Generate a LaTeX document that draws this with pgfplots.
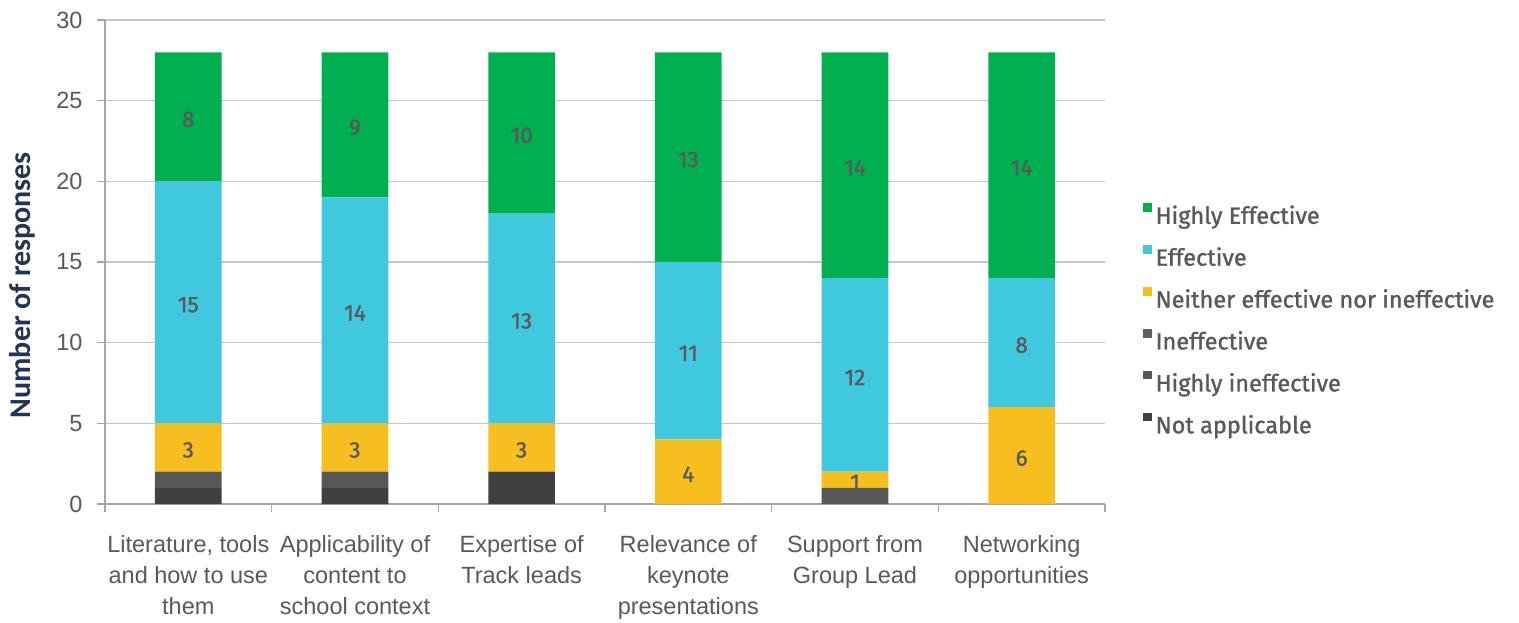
\documentclass[border=0pt]{standalone}
\usepackage{pgfplots}
\pgfplotsset{compat=1.18}
\usepackage{fontspec}
\setmainfont{Liberation Sans}
\newfontfamily\fira[FakeBold=1.2]{Fira Sans}
\newfontfamily\carlito{Carlito}
\definecolor{cHE}{HTML}{00B050}
\definecolor{cE}{HTML}{40C8DF}
\definecolor{cN}{HTML}{F6BE1E}
\definecolor{cI}{HTML}{606060}
\definecolor{cHI}{HTML}{575757}
\definecolor{cNA}{HTML}{404040}
\definecolor{txtgray}{HTML}{595959}
\definecolor{gridgray}{HTML}{C6C6C6}
\definecolor{axgray}{HTML}{A6A6A6}
\definecolor{navy}{HTML}{1F3657}
\pgfplotsset{
  sq/.style={legend image code/.code={\fill[##1] (0bp,3.5bp) rectangle (8.5bp,12bp);}},
  lbl/.style={nodes near coords={\pgfmathprintnumber{\rawy}},
    visualization depends on=rawy \as \rawy,
    every node near coord/.append style={anchor=center, yshift=-2.5bp,
      font=\fira\fontsize{22.5bp}{26bp}\selectfont, text=txtgray}},
}
\begin{document}
\begin{tikzpicture}
\useasboundingbox (-105bp,-119bp) rectangle (1414bp,504bp);
\begin{axis}[
  at={(0,0)}, anchor=south west,
  width=1000bp, height=484bp, scale only axis,
  ybar stacked, bar width=0.4,
  xmin=-0.5, xmax=5.5, ymin=0, ymax=30,
  ytick={0,5,...,30},
  xtick={0,...,5},
  minor xtick={-0.5,0.5,...,5.5},
  xticklabels={{Literature, tools\\and how to use\\them},{Applicability of\\content to\\school context},{Expertise of\\Track leads},{Relevance of\\keynote\\presentations},{Support from\\Group Lead},{Networking\\opportunities}},
  /pgf/number format/assume math mode=true,
  xticklabel style={align=center, font=\fontsize{23.5bp}{31bp}\selectfont, text=txtgray, yshift=-20bp},
  yticklabel style={font=\fontsize{23.5bp}{27bp}\selectfont, text=txtgray, xshift=-11bp},
  axis lines=left, axis line style={-, draw=axgray, line width=1.3bp},
  tick align=outside, major tick length=8bp, minor tick length=8bp,
  major x tick style={draw=none},
  minor x tick style={draw=axgray, line width=1.3bp},
  major y tick style={draw=axgray, line width=1.3bp},
  ymajorgrids, grid style={draw=gridgray, line width=1.1bp},
  ylabel={\bfseries Number of responses},
  ylabel style={at={(axis description cs:-0.083,0.452)}, anchor=center, font=\carlito\fontsize{30bp}{33bp}\selectfont, text=navy},
  reverse legend,
  legend cell align=left,
  legend style={at={(1.038,0.38)}, anchor=west, draw=none, fill=none, inner sep=0pt,
    font=\fira\fontsize{23.5bp}{27bp}\selectfont, text=txtgray, row sep=18bp,
    /tikz/every odd column/.append style={column sep=2bp}},
]
\addplot[fill=cNA, draw=none, sq] coordinates {(0,1) (1,1) (2,2) (3,0) (4,0) (5,0)};
\addlegendentry{Not applicable}
\addplot[fill=cHI, draw=none, sq] coordinates {(0,1) (1,1) (2,0) (3,0) (4,1) (5,0)};
\addlegendentry{Highly ineffective}
\addplot[fill=cI, draw=none, sq] coordinates {(0,0) (1,0) (2,0) (3,0) (4,0) (5,0)};
\addlegendentry{Ineffective}
\addplot[fill=cN, draw=none, sq, lbl] coordinates {(0,3) (1,3) (2,3) (3,4) (4,1) (5,6)};
\addlegendentry{Neither effective nor ineffective}
\addplot[fill=cE, draw=none, sq, lbl] coordinates {(0,15) (1,14) (2,13) (3,11) (4,12) (5,8)};
\addlegendentry{Effective}
\addplot[fill=cHE, draw=none, sq, lbl] coordinates {(0,8) (1,9) (2,10) (3,13) (4,14) (5,14)};
\addlegendentry{Highly Effective}
\end{axis}
\end{tikzpicture}
\end{document}
